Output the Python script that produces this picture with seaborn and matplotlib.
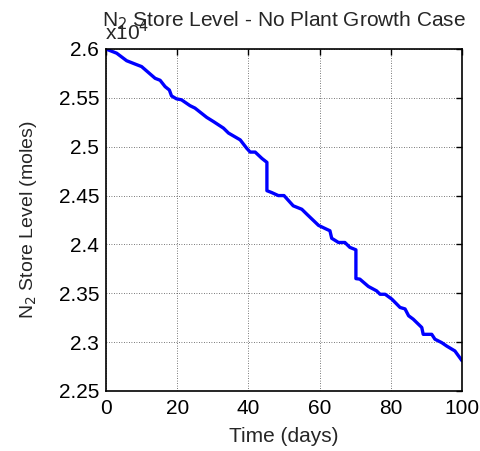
import matplotlib
matplotlib.use("Agg")
import matplotlib.pyplot as plt
import seaborn as sns
import pandas as pd
from matplotlib.ticker import FuncFormatter

# Time (days)
days = [0, 3, 5.8, 8.1, 10, 11.9, 13.8, 15.2, 16.6, 17.8, 18.4, 19.8, 21.2, 23.6, 25,
        28.3, 30.2, 33, 34.4, 37.7, 39.5, 40.5, 41.9, 43.8, 45.2, 45.2, 46.6, 48.4, 50,
        52.6, 55, 56.4, 59.7, 62, 62.9, 63.4, 65.3, 67.1, 68.5, 70.2, 70.2, 71.3, 73.7,
        76, 77, 78.4, 80.3, 82.6, 84, 85, 86.3, 88.7, 89.1, 91.5, 92.4, 94.3, 95.7, 98, 100]
# N2 store level (x1e4 moles)
store = [2.600, 2.5957, 2.588, 2.5847, 2.582, 2.576, 2.570, 2.568, 2.5615, 2.558, 2.552,
         2.549, 2.548, 2.542, 2.5395, 2.530, 2.5257, 2.519, 2.514, 2.507, 2.4985, 2.4945,
         2.4945, 2.488, 2.484, 2.455, 2.453, 2.450, 2.450, 2.4395, 2.436, 2.431, 2.4195,
         2.4155, 2.414, 2.4063, 2.402, 2.402, 2.397, 2.3945, 2.365, 2.3645, 2.357, 2.3525,
         2.349, 2.349, 2.344, 2.3355, 2.334, 2.327, 2.3235, 2.315, 2.308, 2.308, 2.303,
         2.2995, 2.296, 2.291, 2.281]
xticks = [0, 20, 40, 60, 80, 100]
yticks = [2.25, 2.3, 2.35, 2.4, 2.45, 2.5, 2.55, 2.6]

df = pd.DataFrame({"day": days, "store": store})

sns.set_style("white")
plt.rcParams['font.family'] = ['Liberation Sans', 'DejaVu Sans']

fig = plt.figure(figsize=(4.81, 4.51), dpi=100)
ax = fig.add_axes([106/481, 1-391/451, (462-106)/481, (391-49)/451])
sns.lineplot(data=df, x="day", y="store", ax=ax, color="#0000ff", lw=2.4,
             sort=False, estimator=None)
ax.set_xlim(0, 100)
ax.set_ylim(2.25, 2.6)
ax.set_xticks(xticks)
ax.set_yticks(yticks)
ax.yaxis.set_major_formatter(FuncFormatter(lambda v, p: "%g" % round(v, 2)))
ax.grid(True, color="#000000", linestyle=(0, (1, 2)), lw=0.6, alpha=0.7)
ax.tick_params(direction="in", length=4, width=1, top=True, right=True,
               labelsize=15, color="black", labelcolor="black")
ax.tick_params(axis="x", pad=6)
ax.tick_params(axis="y", pad=5)
for s in ax.spines.values():
    s.set_visible(True)
    s.set_color("black")
    s.set_linewidth(1.2)
ax.set_xlabel("Time (days)", fontsize=15, labelpad=6)
ax.set_ylabel("N$_2$ Store Level (moles)", fontsize=14, labelpad=14)
ax.set_title("N$_2$ Store Level - No Plant Growth Case", fontsize=15, pad=16)
ax.text(-0.003, 1.015, "x10$^4$", transform=ax.transAxes, fontsize=15,
        ha="left", va="bottom")
fig.savefig("out.png", dpi=100)
